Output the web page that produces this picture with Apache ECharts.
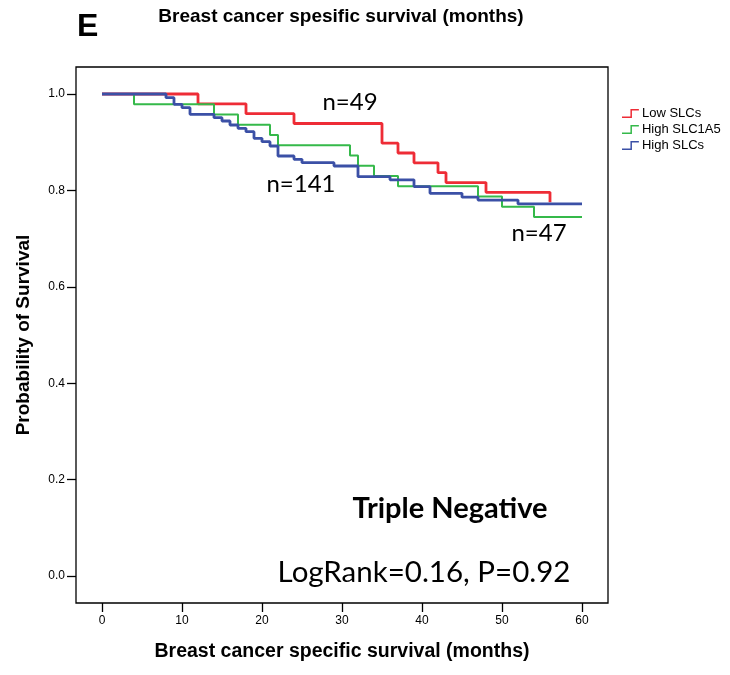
<!DOCTYPE html>
<html>
<head>
<meta charset="utf-8">
<script src="https://cdn.jsdelivr.net/npm/echarts@6/dist/echarts.min.js"></script>
<style>
  html, body { margin: 0; padding: 0; background: #fff; }
  #chart { width: 730px; height: 675px; }
</style>
</head>
<body>
<div id="chart"></div>
<script>
// survival steps (months, probability)
var lowT = [0, 12, 18, 24, 35, 37, 39, 42, 43, 48, 56];
var lowS = [1, 0.9796, 0.9592, 0.9388, 0.898, 0.8776, 0.8571, 0.8367, 0.8163, 0.7959, 0.7755];

var slc1a5T = [0, 4, 14, 17, 21, 22, 31, 32, 34, 37, 47, 50, 54, 60];
var slc1a5S = [1, 0.9787, 0.9574, 0.9362, 0.9149, 0.8936, 0.8723, 0.8511, 0.8298, 0.8085, 0.7872, 0.766, 0.7447, 0.7447];

var highT = [0, 8, 9, 10, 11, 14, 15, 16, 17, 18, 19, 20, 21, 22, 24, 25, 29, 32, 36, 39, 41, 45, 47, 52, 60];
var highS = [1, 0.9924, 0.9786, 0.9716, 0.9578, 0.9509, 0.944, 0.9357, 0.9288, 0.9219, 0.9081, 0.9011, 0.8921, 0.8714,
  0.8645, 0.8576, 0.8506, 0.8285, 0.822, 0.808, 0.794, 0.786, 0.78, 0.772, 0.772];

var groupNames = ['Low SLCs', 'High SLC1A5', 'High SLCs'];
var xTicks = [0, 10, 20, 30, 40, 50, 60];
var yTicks = [0, 0.2, 0.4, 0.6, 0.8, 1.0];

var RED = '#ee2c36', GREEN = '#35b94a', BLUE = '#3b50a6';
var CAL = 'Lato, "Open Sans", sans-serif';
var ARIAL = '"Liberation Sans", Arial, sans-serif';

function pairs(t, s) {
  return t.map(function (v, i) { return [v, s[i]]; });
}

var chart = echarts.init(document.getElementById('chart'));

var option = {
  animation: false,
  backgroundColor: '#fff',
  textStyle: { fontFamily: ARIAL },
  grid: {
    left: 76, top: 67, width: 532, height: 536,
    show: true, borderColor: '#000', borderWidth: 1.3,
    outerBoundsMode: 'none'
  },
  legend: {
    orient: 'vertical',
    left: 617, top: 102,
    itemWidth: 17, itemHeight: 9, itemGap: 3,
    icon: 'path://M0,8 L9,8 L9,0 L18,0 L18,1.6 L10.6,1.6 L10.6,9.6 L0,9.6 Z',
    itemStyle: { borderWidth: 0 },
    textStyle: { fontSize: 13, color: '#000', fontFamily: ARIAL, padding: [0, 0, 0, -2] },
    data: groupNames
  },
  xAxis: {
    type: 'value',
    min: -3.25, max: 63.25,
    splitLine: { show: false },
    axisLine: { show: false, onZero: false },
    axisTick: { show: true, length: 9, customValues: xTicks, lineStyle: { color: '#000', width: 1.3 } },
    axisLabel: { customValues: xTicks, margin: 12, fontSize: 12, color: '#000' },
    name: 'Breast cancer specific survival (months)',
    nameLocation: 'middle', nameGap: 39,
    nameTextStyle: { fontWeight: 'bold', fontSize: 19.5, color: '#000' }
  },
  yAxis: {
    type: 'value',
    min: -0.056, max: 1.056,
    splitLine: { show: false },
    axisLine: { show: false, onZero: false },
    axisTick: { show: true, length: 9, customValues: yTicks, lineStyle: { color: '#000', width: 1.3 } },
    axisLabel: {
      customValues: yTicks, margin: 11, fontSize: 12, color: '#000',
      formatter: function (v) { return v.toFixed(1); }
    },
    name: 'Probability of Survival',
    nameLocation: 'middle', nameGap: 43, nameRotate: 90,
    nameTextStyle: { fontWeight: 'bold', fontSize: 19, color: '#000' }
  },
  series: [
    {
      name: groupNames[0], type: 'line', step: 'end', symbol: 'none',
      data: pairs(lowT, lowS),
      itemStyle: { color: RED }, lineStyle: { color: RED, width: 2.8 }
    },
    {
      name: groupNames[1], type: 'line', step: 'end', symbol: 'none',
      data: pairs(slc1a5T, slc1a5S),
      itemStyle: { color: GREEN }, lineStyle: { color: GREEN, width: 2 }
    },
    {
      name: groupNames[2], type: 'line', step: 'end', symbol: 'none',
      data: pairs(highT, highS),
      itemStyle: { color: BLUE }, lineStyle: { color: BLUE, width: 2.8 }
    }
  ],
  graphic: [
    { type: 'text', x: 77, y: 27, style: { text: 'E', font: 'bold 32px "Liberation Sans Narrow", ' + ARIAL, fill: '#000', verticalAlign: 'middle' } },
    { type: 'text', x: 341, y: 17, style: { text: 'Breast cancer spesific survival (months)', font: 'bold 19px ' + ARIAL, fill: '#000', align: 'center', verticalAlign: 'middle' } },
    { type: 'text', x: 350, y: 102, style: { text: 'n=49', font: '24px ' + CAL, fill: '#000', align: 'center', verticalAlign: 'middle' } },
    { type: 'text', x: 301, y: 184, style: { text: 'n=141', font: '24px ' + CAL, fill: '#000', align: 'center', verticalAlign: 'middle' } },
    { type: 'text', x: 539, y: 233, style: { text: 'n=47', font: '24px ' + CAL, fill: '#000', align: 'center', verticalAlign: 'middle' } },
    { type: 'text', x: 450, y: 509, style: { text: 'Triple Negative', font: 'bold 29px ' + CAL, fill: '#000', align: 'center', verticalAlign: 'middle' } },
    { type: 'text', x: 424, y: 572, style: { text: 'LogRank=0.16, P=0.92', font: '29.5px ' + CAL, fill: '#000', align: 'center', verticalAlign: 'middle' } }
  ]
};

chart.setOption(option);
</script>
</body>
</html>
